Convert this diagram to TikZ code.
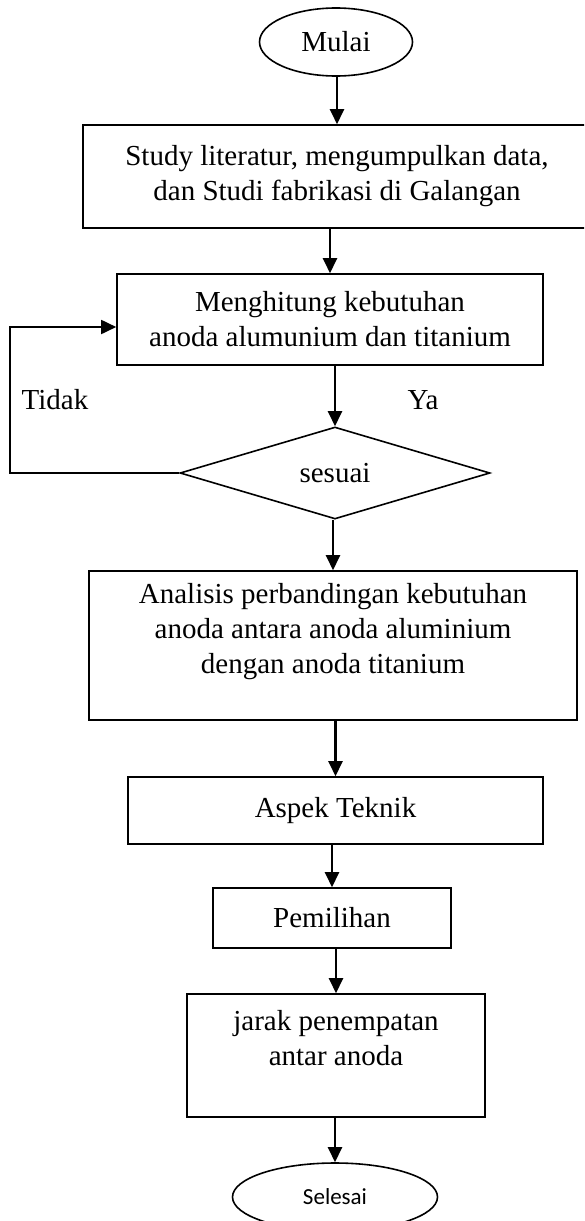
\documentclass[tikz,border=0pt]{standalone}
\usepackage{fontspec}
\setmainfont{Liberation Serif}
\newfontfamily\sanscal{Carlito}
\usetikzlibrary{shapes.geometric,arrows.meta}

\begin{document}
\begin{tikzpicture}[x=1pt, y=-1pt, line width=1.6pt,
                    every node/.style={font=\fontsize{29}{35}\selectfont,
                                       align=center,
                                       inner sep=0pt},
                    kotak/.style={draw, rectangle},
                    oval/.style={draw, ellipse},
                    putusan/.style={draw, diamond, aspect=3.4},
                    panah/.style={-{Triangle[length=15pt, width=14pt]}, line width=2.4pt}]
                      \useasboundingbox (0,0) rectangle (584,1221);
                      \clip (0,0) rectangle (584,1221);

                      \node[oval, minimum width=153pt, minimum height=68pt] (mulai) at (336, 42) {Mulai};
                      \node[kotak, minimum width=508pt, minimum height=103pt] (studi) at (337, 176.5)
                          {Study literatur, mengumpulkan data,\\dan Studi fabrikasi di Galangan};
                      \node[kotak, minimum width=426pt, minimum height=91pt] (hitung) at (330, 319.5)
                          {Menghitung kebutuhan\\anoda alumunium dan titanium};
                      \node[putusan, minimum width=310pt, minimum height=92pt] (sesuai) at (335, 473) {sesuai};
                      \node[kotak, minimum width=488pt, minimum height=149pt] (analisis) at (333, 645.5)
                          {Analisis perbandingan kebutuhan\\anoda antara anoda aluminium\\dengan anoda titanium\\~};
                      \node[kotak, minimum width=415pt, minimum height=67pt] (aspek) at (335.5, 810.5) {Aspek Teknik};
                      \node[kotak, minimum width=238pt, minimum height=60pt] (pilih) at (332, 918) {Pemilihan};
                      \node[kotak, minimum width=298pt, minimum height=123pt] (jarak) at (336, 1055.5)
                          {jarak penempatan\\antar anoda\\~};
                      \node[oval, minimum width=205pt, minimum height=68pt, font=\sanscal\fontsize{23}{28}\selectfont]
                          (selesai) at (335, 1197) {Selesai};

                      \node (tidak) at (55, 400) {Tidak};
                      \node (ya) at (423, 400) {Ya};

                      \foreach \i/\j in {mulai/studi, studi/hitung, hitung/sesuai, sesuai/analisis,
                                         analisis/aspek, aspek/pilih, pilih/jarak, jarak/selesai} {
                              \draw[panah] (\j.north |- \i.south) -- (\j.north);
                          }

                      \coordinate (balik) at (10, 327);
                      \draw[panah, line width=1.8pt] (sesuai.west) -| (balik) -- (balik -| hitung.west);
                  \end{tikzpicture}
\end{document}
